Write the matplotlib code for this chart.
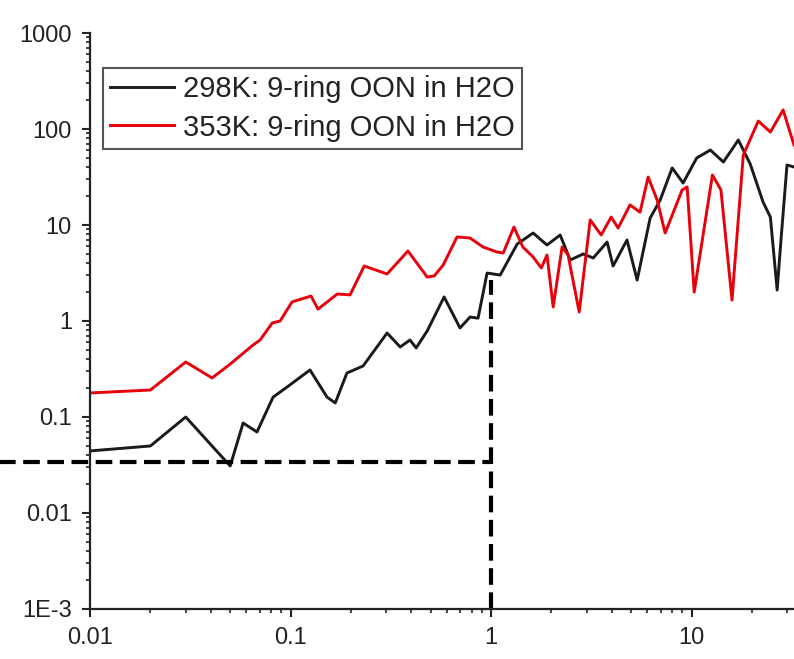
import matplotlib
matplotlib.use("Agg")
import matplotlib.pyplot as plt
from matplotlib.ticker import FixedLocator, FixedFormatter, LogLocator, NullFormatter

plt.rcParams['font.family'] = ['Liberation Sans', 'DejaVu Sans']

# 298K: 9-ring OON in H2O
x_298 = [0.01, 0.02, 0.03, 0.05, 0.058, 0.068, 0.0818, 0.096, 0.125, 0.152, 0.167,
         0.191, 0.230, 0.303, 0.352, 0.394, 0.423, 0.480, 0.583, 0.700, 0.785, 0.861,
         0.955, 1.11, 1.22, 1.35, 1.62, 1.90, 2.21, 2.48, 2.88, 3.23, 3.79, 4.06,
         4.76, 5.35, 6.21, 6.97, 8.00, 9.07, 10.6, 12.4, 14.4, 17.1, 19.6, 22.7,
         24.7, 26.7, 27.9, 29.9, 32.4]
y_298 = [0.0443, 0.0499, 0.1, 0.0309, 0.0866, 0.0698, 0.161, 0.205, 0.309, 0.161, 0.140,
         0.287, 0.340, 0.750, 0.536, 0.634, 0.524, 0.787, 1.78, 0.845, 1.10, 1.07,
         3.16, 3.01, 4.32, 6.34, 8.25, 6.19, 7.87, 4.32, 4.99, 4.53, 6.65, 3.74,
         6.98, 2.67, 11.8, 18.2, 39.3, 27.4, 49.9, 60.4, 45.3, 76.8, 43.2, 17.4,
         12.1, 2.10, 6.98, 42.2, 40.2]

# 353K: 9-ring OON in H2O
x_353 = [0.01, 0.02, 0.03, 0.0406, 0.05, 0.065, 0.0705, 0.081, 0.0887, 0.1017, 0.1265,
         0.137, 0.171, 0.198, 0.233, 0.303, 0.385, 0.480, 0.520, 0.577, 0.676, 0.785,
         0.912, 1.07, 1.15, 1.30, 1.44, 1.62, 1.78, 1.90, 2.04, 2.26, 2.42, 2.75,
         3.12, 3.54, 3.97, 4.30, 4.93, 5.53, 6.07, 6.73, 7.38, 8.97, 9.50, 10.3,
         12.7, 14.0, 15.9, 18.1, 21.5, 24.7, 28.6, 32.4]
y_353 = [0.178, 0.191, 0.374, 0.255, 0.356, 0.562, 0.634, 0.953, 1.0, 1.58, 1.82,
         1.33, 1.91, 1.87, 3.74, 3.09, 5.36, 2.87, 2.94, 3.83, 7.50, 7.32,
         5.90, 5.23, 5.11, 9.53, 5.90, 4.64, 3.57, 4.87, 1.40, 5.90, 4.87, 1.24,
         11.3, 7.87, 12.1, 9.30, 16.2, 13.6, 31.6, 18.2, 8.25, 23.2, 24.9, 2.00,
         33.2, 23.2, 1.65, 53.6, 121, 93.0, 158, 68.1]

# guide lines
guide_x = 1.0
guide_y = 0.034
guide_top = 2.7

y_ticks = [1e-3, 1e-2, 1e-1, 1, 10, 100, 1000]
y_labels = ['1E-3', '0.01', '0.1', '1', '10', '100', '1000']
x_ticks = [0.01, 0.1, 1, 10]
x_labels = ['0.01', '0.1', '1', '10']

fig = plt.figure(figsize=(7.94, 6.59), dpi=100)
ax = fig.add_axes([0.1134, 0.0759, 0.8866, 0.874])

ax.plot(x_298, y_298, color='#1a1a1a', lw=2.1, label='298K: 9-ring OON in H2O')
ax.plot(x_353, y_353, color='#e8000b', lw=2.1, label='353K: 9-ring OON in H2O')

ax.plot([0.003, guide_x], [guide_y, guide_y], color='black', lw=3,
        dashes=(4, 1.8), clip_on=False)
ax.plot([guide_x, guide_x], [1e-3, guide_top], color='black', lw=3,
        dashes=(4, 1.8), clip_on=False)

ax.set_xscale('log')
ax.set_yscale('log')
ax.set_xlim(0.01, 32.4)
ax.set_ylim(1e-3, 1000)

ax.yaxis.set_major_locator(FixedLocator(y_ticks))
ax.yaxis.set_major_formatter(FixedFormatter(y_labels))
ax.xaxis.set_major_locator(FixedLocator(x_ticks))
ax.xaxis.set_major_formatter(FixedFormatter(x_labels))
for axis in (ax.xaxis, ax.yaxis):
    axis.set_minor_locator(LogLocator(base=10, subs=range(2, 10)))
    axis.set_minor_formatter(NullFormatter())

ax.spines['top'].set_visible(False)
ax.spines['right'].set_visible(False)
ax.spines['left'].set_linewidth(1.6)
ax.spines['bottom'].set_linewidth(1.6)
ax.spines['left'].set_color('#222222')
ax.spines['bottom'].set_color('#222222')

ax.tick_params(which='major', length=6, width=1.5, labelsize=17,
               colors='#222222', pad=7)
ax.tick_params(which='minor', length=3, width=1.2, colors='#222222')

leg = ax.legend(loc='upper left', bbox_to_anchor=(103 / 794, 1 - 68 / 659),
                bbox_transform=fig.transFigure, fontsize=21, frameon=True,
                fancybox=False, framealpha=1, edgecolor='#555555',
                borderpad=0.25, borderaxespad=0, handlelength=2.2,
                handletextpad=0.3, labelspacing=0.35)
leg.get_frame().set_linewidth(1.5)
for t in leg.get_texts():
    t.set_color('#222222')
for line in leg.get_lines():
    line.set_linewidth(2.1)

fig.savefig('out.png', dpi=100)
